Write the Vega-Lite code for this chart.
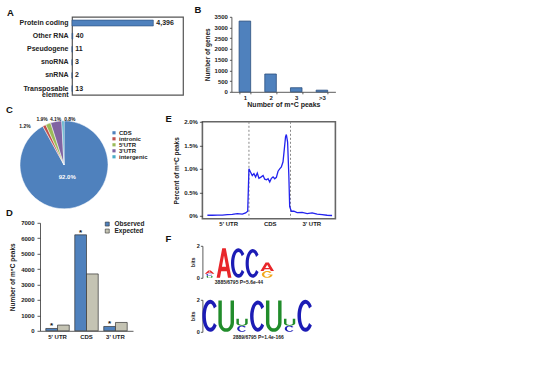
{
  "config": {
    "font": "Liberation Sans",
    "view": {"stroke": null},
    "axis": {"grid": false, "labelFontSize": 6, "labelFontWeight": "bold", "labelColor": "#222", "titleFontSize": 6.5, "titleFontWeight": "bold", "titleColor": "#222", "domainColor": "#333", "tickColor": "#333", "tickSize": 3, "labelPadding": 2, "titlePadding": 3, "domainWidth": 0.8, "tickWidth": 0.8},
    "title": {"fontSize": 9.5, "fontWeight": "bold", "anchor": "start", "frame": "group", "color": "#111", "offset": 0},
    "legend": {"labelFontSize": 6.5, "labelFontWeight": "bold", "labelColor": "#222", "symbolType": "square"}
  },
  "padding": {"left": 6, "top": 4.8, "right": 5, "bottom": 5},
  "spacing": -19.6,
  "resolve": {"scale": {"color": "independent", "shape": "independent", "size": "independent"}},
  "hconcat": [
    {
      "spacing": -5,
      "resolve": {"scale": {"color": "independent", "shape": "independent", "size": "independent"}},
      "vconcat": [
        {
          "spacing": -13,
          "hconcat": [
            {"width": 1, "height": 1, "data": {"values": []}, "mark": "point"},
            {
              "width": 111, "height": 78,
              "title": {"text": "A", "dx": -65, "offset": -0.8},
              "view": {"stroke": "#555", "strokeWidth": 1.2},
              "data": {"values": [
                {"type": "Protein coding", "genes": 4396},
                {"type": "Other RNA", "genes": 40},
                {"type": "Pseudogene", "genes": 11},
                {"type": "snoRNA", "genes": 3},
                {"type": "snRNA", "genes": 2},
                {"type": "Transposable element", "genes": 13}
              ]},
              "encoding": {
                "y": {"field": "type", "type": "nominal", "sort": null, "scale": {"paddingInner": 0.55, "paddingOuter": 0.25},
                  "axis": {"title": null, "ticks": false, "domain": false, "labelPadding": 4, "labelFontSize": 7, "labelLineHeight": 6.5, "labelExpr": "datum.value === 'Transposable element' ? ['Transposable', 'element'] : datum.value"}},
                "x": {"field": "genes", "type": "quantitative", "scale": {"domain": [0, 6000]}, "axis": null}
              },
              "layer": [
                {"mark": {"type": "bar", "fill": "#4f81bd", "stroke": "#2c4f7c", "strokeWidth": 0.6}},
                {"mark": {"type": "text", "align": "left", "dx": 3, "fontSize": 7, "fontWeight": "bold", "color": "#222"},
                  "encoding": {"text": {"field": "genes", "type": "quantitative", "format": ","}}}
              ]
            }
          ]
        },
        {"width": 1, "height": 9.5, "data": {"values": []}, "mark": "point"},
        {
          "width": 92, "height": 88,
          "title": {"text": "C", "dx": -12, "offset": 2.5},
          "data": {"values": [
            {"region": "CDS", "share": 0.920, "rank": 1},
            {"region": "intronic", "share": 0.012, "rank": 2},
            {"region": "5'UTR", "share": 0.019, "rank": 3},
            {"region": "3'UTR", "share": 0.041, "rank": 4},
            {"region": "intergenic", "share": 0.008, "rank": 5}
          ]},
          "encoding": {
            "theta": {"field": "share", "type": "quantitative", "stack": true},
            "order": {"field": "rank", "type": "quantitative"}
          },
          "layer": [
            {"mark": {"type": "arc", "stroke": "#fff", "strokeWidth": 0.5},
              "encoding": {"color": {"field": "region", "type": "nominal", "sort": null,
                "scale": {"domain": ["CDS", "intronic", "5'UTR", "3'UTR", "intergenic"], "range": ["#4f81bd", "#c0504d", "#9bbb59", "#8064a2", "#4bacc6"]},
                "legend": {"title": null, "orient": "none", "legendX": 93, "legendY": 9, "symbolSize": 10, "rowPadding": 0, "labelOffset": 2, "symbolStrokeWidth": 0, "labelFontSize": 6}}}},
            {"mark": {"type": "text", "fontWeight": "bold",
                "fontSize": {"expr": "datum.region === 'CDS' ? 6 : 5"},
                "radius": {"expr": "datum.region === 'CDS' ? 13 : 47"},
                "dx": {"expr": "datum.region === 'intronic' ? -18 : datum.region === \"5'UTR\" ? -5 : datum.region === 'intergenic' ? 7 : 0"},
                "dy": {"expr": "datum.region === 'intronic' ? 3 : datum.region === \"5'UTR\" ? -2 : datum.region === 'intergenic' ? 1 : 0"}},
              "encoding": {
                "detail": {"field": "region"},
                "color": {"condition": {"test": "datum.region === 'CDS'", "value": "#ffffff"}, "value": "#222222"},
                "text": {"field": "share", "type": "quantitative", "format": ".1%"}}}
          ]
        },
        {"width": 1, "height": 2.2, "data": {"values": []}, "mark": "point"},
        {
          "spacing": -13,
          "resolve": {"scale": {"color": "independent"}},
          "hconcat": [
            {"width": 1, "height": 1, "data": {"values": []}, "mark": "point"},
            {
              "width": 93, "height": 108,
              "title": {"text": "D", "dx": -34, "offset": 1.8},
              "data": {"values": [
                {"region": "5' UTR", "type": "Observed", "peaks": 150, "sig": "*"},
                {"region": "5' UTR", "type": "Expected", "peaks": 370, "sig": ""},
                {"region": "CDS", "type": "Observed", "peaks": 6220, "sig": "*"},
                {"region": "CDS", "type": "Expected", "peaks": 3685, "sig": ""},
                {"region": "3' UTR", "type": "Observed", "peaks": 280, "sig": "*"},
                {"region": "3' UTR", "type": "Expected", "peaks": 540, "sig": ""}
              ]},
              "encoding": {
                "x": {"field": "region", "type": "nominal", "sort": null, "scale": {"paddingInner": 0.19, "paddingOuter": 0.2},
                  "axis": {"title": null, "labelAngle": 0, "ticks": false, "labelPadding": 3}},
                "xOffset": {"field": "type", "type": "nominal", "sort": ["Observed", "Expected"]},
                "y": {"field": "peaks", "type": "quantitative", "scale": {"domain": [0, 7000], "nice": false},
                  "axis": {"title": "Number of m⁵C peaks", "format": "d", "values": [0, 1000, 2000, 3000, 4000, 5000, 6000, 7000], "labelPadding": 3, "titlePadding": 5}}
              },
              "layer": [
                {"mark": {"type": "bar", "stroke": "#333", "strokeWidth": 0.7},
                  "encoding": {"color": {"field": "type", "type": "nominal", "sort": ["Observed", "Expected"],
                    "scale": {"domain": ["Observed", "Expected"], "range": ["#4f81bd", "#c4c3b3"]},
                    "legend": {"title": null, "orient": "none", "legendX": 64, "legendY": -2, "symbolSize": 16, "symbolStrokeColor": "#333", "symbolStrokeWidth": 0.6, "rowPadding": 0, "labelFontSize": 6.5}}}},
                {"mark": {"type": "text", "baseline": "bottom", "dy": 2, "fontSize": 8, "fontWeight": "bold", "color": "#111"},
                  "encoding": {"text": {"field": "sig"}}}
              ]
            }
          ]
        }
      ]
    },
    {
      "spacing": -3,
      "resolve": {"scale": {"color": "independent", "shape": "independent", "size": "independent"}},
      "vconcat": [
        {
          "spacing": -9,
          "hconcat": [
            {"width": 1, "height": 1, "data": {"values": []}, "mark": "point"},
            {
              "width": 104, "height": 75,
              "title": {"text": "B", "dx": -37, "offset": -0.8},
              "data": {"values": [
                {"peaks": "1", "genes": 3300},
                {"peaks": "2", "genes": 830},
                {"peaks": "3", "genes": 190},
                {"peaks": ">3", "genes": 76}
              ]},
              "mark": {"type": "bar", "fill": "#4f81bd", "stroke": "#2c4f7c", "strokeWidth": 0.8},
              "encoding": {
                "x": {"field": "peaks", "type": "ordinal", "sort": null, "scale": {"paddingInner": 0.55, "paddingOuter": 0.3},
                  "axis": {"title": "Number of m⁵C peaks", "labelAngle": 0, "tickBand": "extent", "tickSize": 2, "labelPadding": 1, "titlePadding": 0, "titleFontSize": 7}},
                "y": {"field": "genes", "type": "quantitative", "scale": {"domain": [0, 3500], "nice": false},
                  "axis": {"title": "Number of genes", "format": "d", "values": [0, 500, 1000, 1500, 2000, 2500, 3000, 3500], "tickSize": 2, "titlePadding": 4}}
              }
            }
          ]
        },
        {"width": 1, "height": 7.8, "data": {"values": []}, "mark": "point"},
        {
          "width": 133, "height": 97,
          "title": {"text": "E", "dx": -37, "offset": -4.8},
          "view": {"stroke": "#666", "strokeWidth": 1.6},
          "encoding": {
            "x": {"field": "pos", "type": "quantitative", "scale": {"domain": [-0.12, 3.08], "nice": false, "zero": false},
              "axis": {"title": null, "values": [0.5, 1.5, 2.5], "ticks": false, "domain": false, "labelPadding": 2,
                "labelExpr": "datum.value < 1 ? \"5' UTR\" : (datum.value < 2 ? 'CDS' : \"3' UTR\")"}}
          },
          "layer": [
            {"data": {"values": [{"pos": 1}, {"pos": 2}]},
              "mark": {"type": "rule", "strokeDash": [2, 2], "color": "#888", "strokeWidth": 1}},
            {"data": {"values": [
              {"pos": 0.0, "pct": 0.015}, {"pos": 0.12, "pct": 0.015}, {"pos": 0.24, "pct": 0.016}, {"pos": 0.36, "pct": 0.02},
              {"pos": 0.48, "pct": 0.03}, {"pos": 0.6, "pct": 0.035}, {"pos": 0.72, "pct": 0.05}, {"pos": 0.84, "pct": 0.04},
              {"pos": 0.92, "pct": 0.065}, {"pos": 0.97, "pct": 0.1}, {"pos": 1.0, "pct": 1.0}, {"pos": 1.04, "pct": 0.93},
              {"pos": 1.08, "pct": 0.86}, {"pos": 1.12, "pct": 0.9}, {"pos": 1.16, "pct": 0.83}, {"pos": 1.2, "pct": 0.91},
              {"pos": 1.24, "pct": 0.8}, {"pos": 1.28, "pct": 0.82}, {"pos": 1.34, "pct": 0.86}, {"pos": 1.38, "pct": 0.78},
              {"pos": 1.42, "pct": 0.77}, {"pos": 1.46, "pct": 0.79}, {"pos": 1.5, "pct": 0.72}, {"pos": 1.54, "pct": 0.8},
              {"pos": 1.58, "pct": 0.83}, {"pos": 1.62, "pct": 0.79}, {"pos": 1.66, "pct": 0.82}, {"pos": 1.7, "pct": 0.95},
              {"pos": 1.74, "pct": 1.0}, {"pos": 1.78, "pct": 1.04}, {"pos": 1.82, "pct": 1.15}, {"pos": 1.86, "pct": 1.5},
              {"pos": 1.88, "pct": 1.68}, {"pos": 1.9, "pct": 1.73}, {"pos": 1.93, "pct": 1.57}, {"pos": 1.96, "pct": 0.85},
              {"pos": 1.98, "pct": 0.2}, {"pos": 2.02, "pct": 0.1}, {"pos": 2.08, "pct": 0.1}, {"pos": 2.16, "pct": 0.07},
              {"pos": 2.28, "pct": 0.075}, {"pos": 2.4, "pct": 0.05}, {"pos": 2.52, "pct": 0.065}, {"pos": 2.64, "pct": 0.04},
              {"pos": 2.76, "pct": 0.03}, {"pos": 2.88, "pct": 0.015}, {"pos": 3.0, "pct": 0.01}
            ]},
              "mark": {"type": "line", "color": "#2323ee", "strokeWidth": 1.3},
              "encoding": {
                "y": {"field": "pct", "type": "quantitative", "scale": {"domain": [-0.06, 2.0], "nice": false, "zero": false},
                  "axis": {"title": "Percent of m⁵C peaks", "values": [0, 0.5, 1, 1.5, 2], "domain": false, "tickSize": 3, "titlePadding": 4,
                    "labelExpr": "datum.value === 0 ? '0%' : format(datum.value, '.1f') + '%'"}}
              }}
          ]
        },
        {"width": 1, "height": 8.5, "data": {"values": []}, "mark": "point"},
        {
          "width": 72, "height": 32,
          "title": {"text": "F", "dx": -37, "offset": 0},
          "data": {"values": [
            {"pos": 1, "letter": "U", "bits": 0.12}, {"pos": 1, "letter": "C", "bits": 0.14}, {"pos": 1, "letter": "A", "bits": 0.2},
            {"pos": 2, "letter": "A", "bits": 1.85},
            {"pos": 3, "letter": "C", "bits": 1.85},
            {"pos": 4, "letter": "C", "bits": 1.8},
            {"pos": 5, "letter": "G", "bits": 0.42}, {"pos": 5, "letter": "A", "bits": 0.53}
          ]},
          "encoding": {
            "x": {"field": "pos", "type": "ordinal", "axis": {"title": "3885/6795  P=5.6e-44", "labels": false, "ticks": false, "domain": false, "titleFontSize": 5, "titlePadding": 2}},
            "y": {"field": "bits", "type": "quantitative", "stack": "zero", "scale": {"domain": [0, 2], "nice": false},
              "axis": {"title": "bits", "format": "d", "values": [0, 1, 2], "tickSize": 2, "labelFontSize": 5.5, "titleFontSize": 5.5, "titlePadding": 1, "labelPadding": 1}},
            "order": {"field": "bits", "type": "quantitative", "sort": "ascending"},
            "color": {"field": "letter", "type": "nominal", "scale": {"domain": ["A", "C", "G", "U"], "range": ["#e8262a", "#1c1cb5", "#f2a81d", "#218c2b"]}, "legend": null},
            "size": {"field": "bits", "type": "quantitative", "scale": {"type": "pow", "exponent": 2, "domain": [0, 2], "range": [0, 1024]}, "legend": null}
          },
          "layer": [
            {"transform": [{"filter": "datum.bits >= 1"}],
              "mark": {"type": "point", "filled": true, "opacity": 1, "strokeWidth": 0},
              "encoding": {"shape": {"field": "letter", "type": "nominal", "legend": null, "scale": {"domain": ["A", "C", "G", "U"], "range": [
                "M-0.5 2L-0.12 0L0.12 0L0.5 2L0.27 2L0.19 1.55L-0.19 1.55L-0.27 2ZM-0.14 1.25L0.14 1.25L0 0.5Z",
                "M0.4 0.4A0.5 1 0 1 0 0.4 1.6L0.224 1.45A0.28 0.75 0 1 1 0.224 0.55Z",
                "M0.4 0.4A0.5 1 0 1 0 0.5 1L0.04 1L0.04 1.2L0.27 1.2A0.28 0.75 0 1 1 0.224 0.55Z",
                "M-0.5 0L-0.5 1.4A0.5 0.6 0 0 0 0.5 1.4L0.5 0L0.28 0L0.28 1.4A0.28 0.38 0 0 1 -0.28 1.4L-0.28 0Z"]}}}},
            {"transform": [{"filter": "datum.bits >= 0.3 && datum.bits < 1"}],
              "mark": {"type": "point", "filled": true, "opacity": 1, "strokeWidth": 0},
              "encoding": {"shape": {"field": "letter", "type": "nominal", "legend": null, "scale": {"domain": ["A", "C", "G", "U"], "range": [
                "M-1.6 2L-0.384 0L0.384 0L1.6 2L0.864 2L0.608 1.55L-0.608 1.55L-0.864 2ZM-0.448 1.25L0.448 1.25L0 0.5Z",
                "M1.28 0.4A1.6 1 0 1 0 1.28 1.6L0.717 1.45A0.896 0.75 0 1 1 0.717 0.55Z",
                "M1.28 0.4A1.6 1 0 1 0 1.6 1L0.128 1L0.128 1.2L0.864 1.2A0.896 0.75 0 1 1 0.717 0.55Z",
                "M-1.6 0L-1.6 1.4A1.6 0.6 0 0 0 1.6 1.4L1.6 0L0.896 0L0.896 1.4A0.896 0.38 0 0 1 -0.896 1.4L-0.896 0Z"]}}}},
            {"transform": [{"filter": "datum.bits < 0.3"}],
              "mark": {"type": "point", "filled": true, "opacity": 1, "strokeWidth": 0},
              "encoding": {"shape": {"field": "letter", "type": "nominal", "legend": null, "scale": {"domain": ["A", "C", "G", "U"], "range": [
                "M-3 2L-0.72 0L0.72 0L3 2L1.62 2L1.14 1.55L-1.14 1.55L-1.62 2ZM-0.84 1.25L0.84 1.25L0 0.5Z",
                "M2.4 0.4A3 1 0 1 0 2.4 1.6L1.344 1.45A1.68 0.75 0 1 1 1.344 0.55Z",
                "M2.4 0.4A3 1 0 1 0 3 1L0.24 1L0.24 1.2L1.62 1.2A1.68 0.75 0 1 1 1.344 0.55Z",
                "M-3 0L-3 1.4A3 0.6 0 0 0 3 1.4L3 0L1.68 0L1.68 1.4A1.68 0.38 0 0 1 -1.68 1.4L-1.68 0Z"]}}}}
          ],
          "resolve": {"scale": {"shape": "independent"}}
        },
        {"width": 1, "height": 15, "data": {"values": []}, "mark": "point"},
        {
          "width": 111, "height": 32,
          "data": {"values": [
            {"pos": 1, "letter": "C", "bits": 2.0},
            {"pos": 2, "letter": "U", "bits": 1.95},
            {"pos": 3, "letter": "C", "bits": 0.38}, {"pos": 3, "letter": "U", "bits": 0.44},
            {"pos": 4, "letter": "C", "bits": 1.95},
            {"pos": 5, "letter": "U", "bits": 1.95},
            {"pos": 6, "letter": "C", "bits": 0.38}, {"pos": 6, "letter": "U", "bits": 0.44},
            {"pos": 7, "letter": "C", "bits": 2.0}
          ]},
          "encoding": {
            "x": {"field": "pos", "type": "ordinal", "axis": {"title": "2889/6795 P=1.4e-166", "labels": false, "ticks": false, "domain": false, "titleFontSize": 5, "titlePadding": 3}},
            "y": {"field": "bits", "type": "quantitative", "stack": "zero", "scale": {"domain": [0, 2], "nice": false},
              "axis": {"title": "bits", "format": "d", "values": [0, 1, 2], "tickSize": 2, "labelFontSize": 5.5, "titleFontSize": 5.5, "titlePadding": 1, "labelPadding": 1}},
            "order": {"field": "bits", "type": "quantitative", "sort": "ascending"},
            "color": {"field": "letter", "type": "nominal", "scale": {"domain": ["A", "C", "G", "U"], "range": ["#e8262a", "#1c1cb5", "#f2a81d", "#218c2b"]}, "legend": null},
            "size": {"field": "bits", "type": "quantitative", "scale": {"type": "pow", "exponent": 2, "domain": [0, 2], "range": [0, 1024]}, "legend": null}
          },
          "layer": [
            {"transform": [{"filter": "datum.bits >= 1"}],
              "mark": {"type": "point", "filled": true, "opacity": 1, "strokeWidth": 0},
              "encoding": {"shape": {"field": "letter", "type": "nominal", "legend": null, "scale": {"domain": ["A", "C", "G", "U"], "range": [
                "M-0.5 2L-0.12 0L0.12 0L0.5 2L0.27 2L0.19 1.55L-0.19 1.55L-0.27 2ZM-0.14 1.25L0.14 1.25L0 0.5Z",
                "M0.4 0.4A0.5 1 0 1 0 0.4 1.6L0.224 1.45A0.28 0.75 0 1 1 0.224 0.55Z",
                "M0.4 0.4A0.5 1 0 1 0 0.5 1L0.04 1L0.04 1.2L0.27 1.2A0.28 0.75 0 1 1 0.224 0.55Z",
                "M-0.5 0L-0.5 1.4A0.5 0.6 0 0 0 0.5 1.4L0.5 0L0.28 0L0.28 1.4A0.28 0.38 0 0 1 -0.28 1.4L-0.28 0Z"]}}}},
            {"transform": [{"filter": "datum.bits < 1"}],
              "mark": {"type": "point", "filled": true, "opacity": 1, "strokeWidth": 0},
              "encoding": {"shape": {"field": "letter", "type": "nominal", "legend": null, "scale": {"domain": ["A", "C", "G", "U"], "range": [
                "M-1.6 2L-0.384 0L0.384 0L1.6 2L0.864 2L0.608 1.55L-0.608 1.55L-0.864 2ZM-0.448 1.25L0.448 1.25L0 0.5Z",
                "M1.28 0.4A1.6 1 0 1 0 1.28 1.6L0.717 1.45A0.896 0.75 0 1 1 0.717 0.55Z",
                "M1.28 0.4A1.6 1 0 1 0 1.6 1L0.128 1L0.128 1.2L0.864 1.2A0.896 0.75 0 1 1 0.717 0.55Z",
                "M-1.6 0L-1.6 1.4A1.6 0.6 0 0 0 1.6 1.4L1.6 0L0.896 0L0.896 1.4A0.896 0.38 0 0 1 -0.896 1.4L-0.896 0Z"]}}}}
          ],
          "resolve": {"scale": {"shape": "independent"}}
        }
      ]
    }
  ]
}
